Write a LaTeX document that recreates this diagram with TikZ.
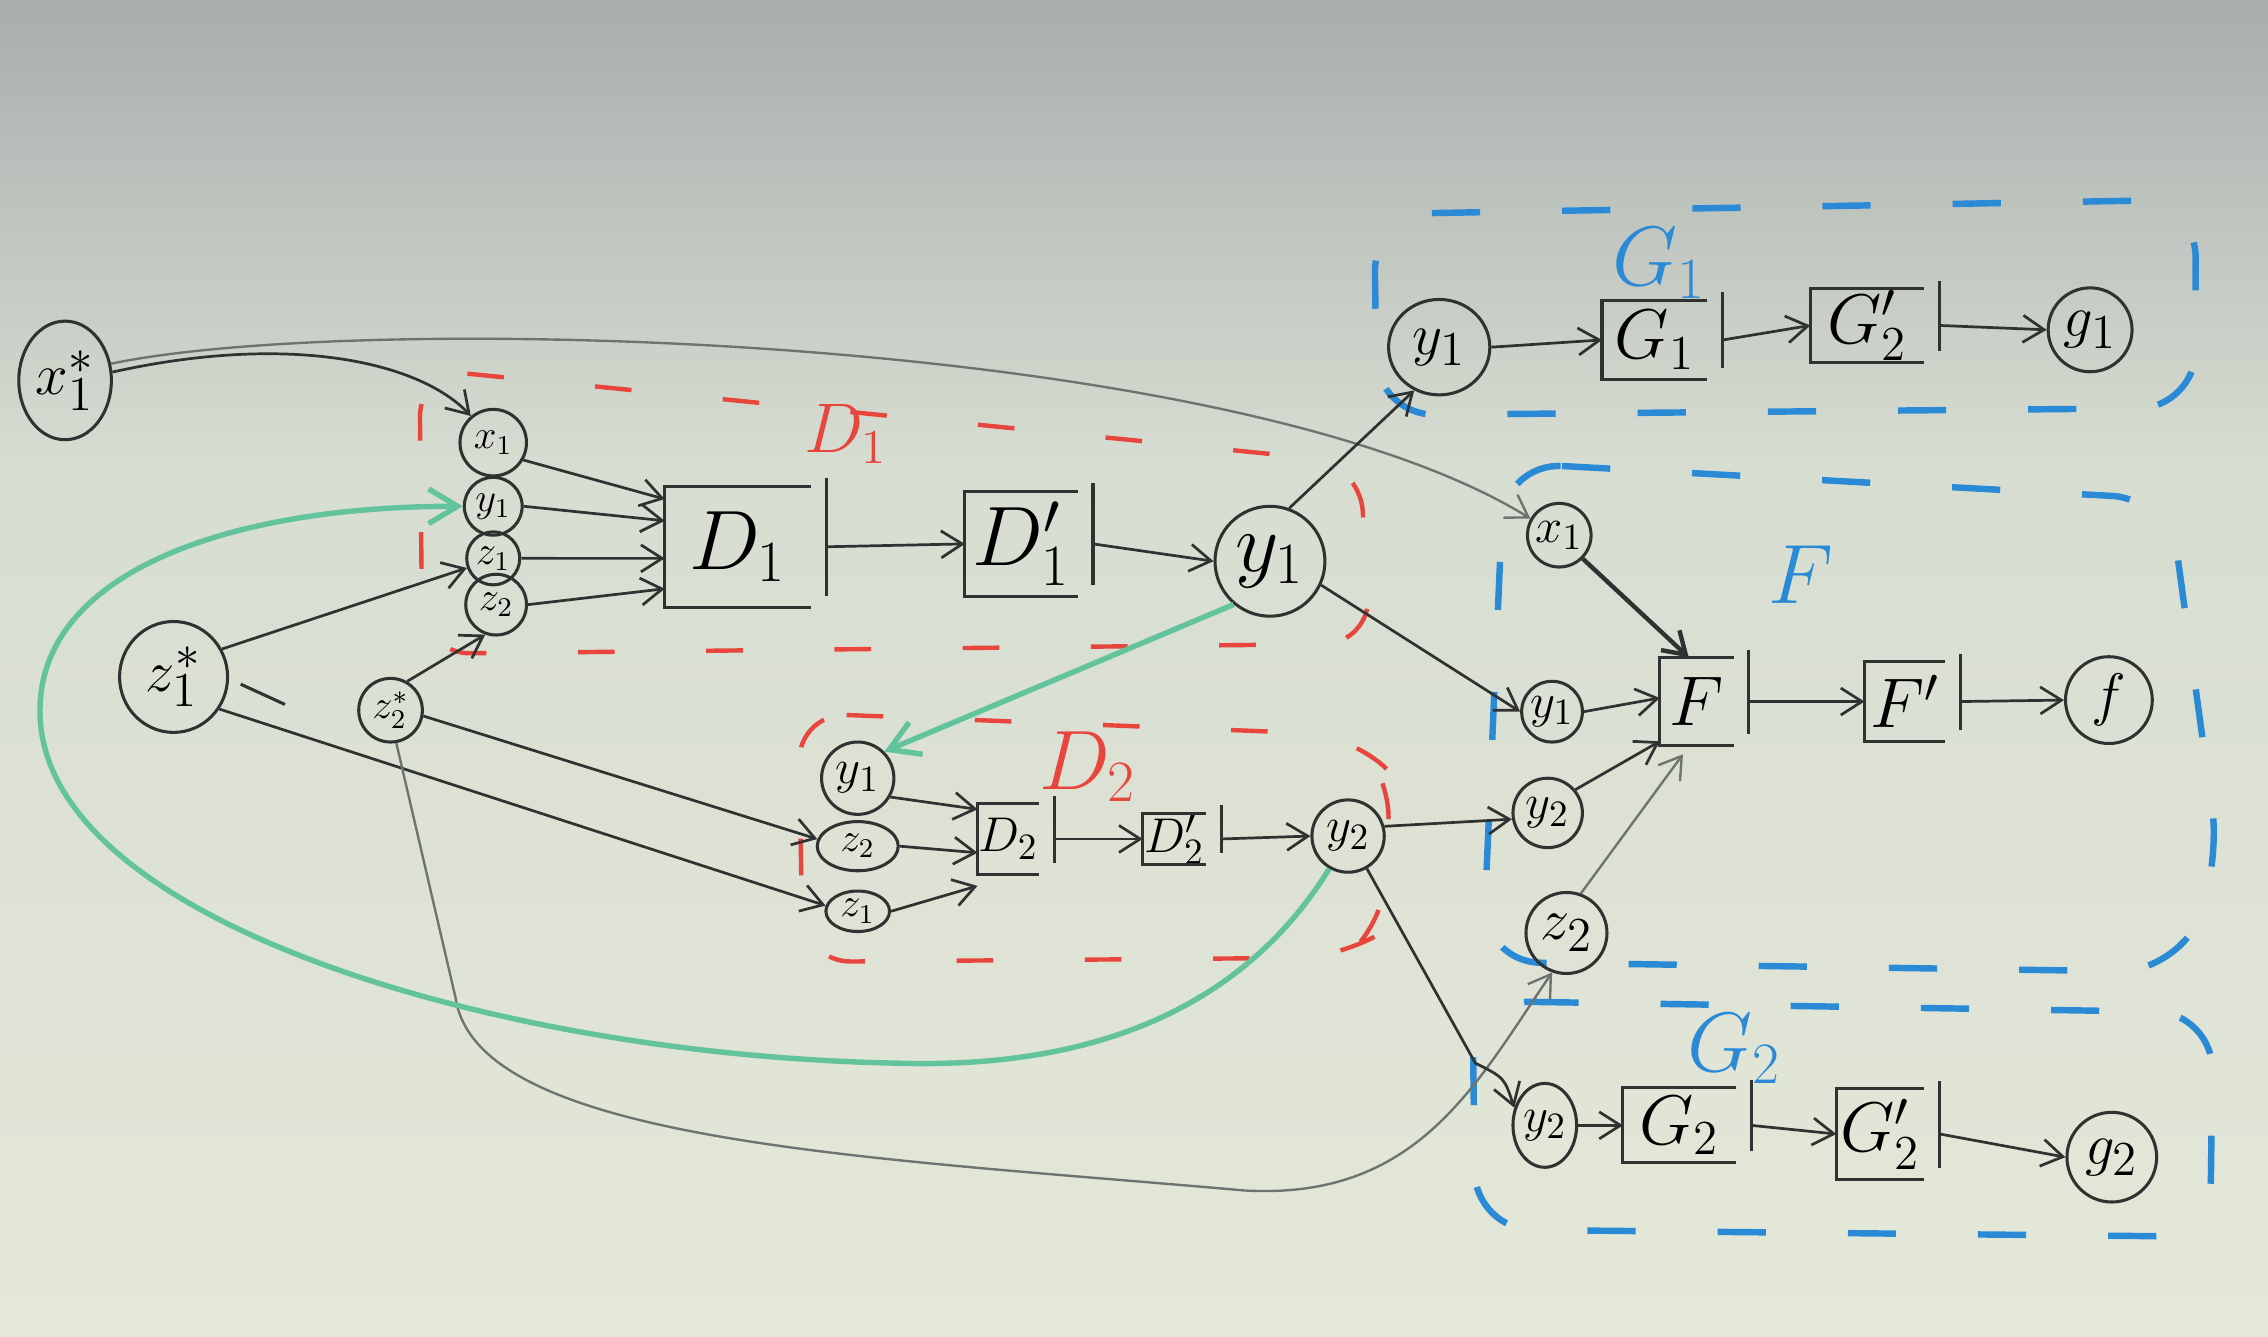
\documentclass[tikz,border=0pt]{standalone}
\usetikzlibrary{arrows.meta,shapes.geometric,calc}
\definecolor{inkc}{HTML}{2F3230}
\definecolor{grayc}{HTML}{6E736F}
\definecolor{redc}{HTML}{E8453C}
\definecolor{bluec}{HTML}{2B8AD6}
\definecolor{greenc}{HTML}{62C39C}
\definecolor{bgtop}{HTML}{A8AEAD}
\definecolor{bgmid}{HTML}{D8DDD2}
\definecolor{bgbot}{HTML}{E3E8D8}
\newcommand\gatebox[1]{%
  \draw[ink] (#1.north east) -- (#1.north west) -- (#1.south west) -- (#1.south east);
  \draw[ink] ([xshift=0.16cm,yshift=0.08cm]#1.north east) -- ([xshift=0.16cm,yshift=0.12cm]#1.south east);
  \coordinate (#1-bar) at ([xshift=0.16cm]#1.east);}
\begin{document}
\begin{tikzpicture}[x=0.015cm,y=-0.015cm,
  ink/.style={draw=inkc,line width=0.9pt},
  circ/.style={circle,draw=inkc,line width=0.9pt,inner sep=0pt},
  ell/.style={ellipse,draw=inkc,line width=0.9pt,inner sep=0pt},
  boxn/.style={rectangle,inner sep=0pt},
  arr/.style={draw=inkc,line width=0.8pt,-{Straight Barb[length=2.2mm,width=2.8mm]}},
  garr/.style={draw=grayc,line width=0.7pt,-{Straight Barb[length=2.2mm,width=2.8mm]}},
  grarr/.style={draw=greenc,line width=1.6pt,-{Straight Barb[length=3mm,width=3.6mm]}},
  reddash/.style={draw=redc,line width=1.3pt,dash pattern=on 0.38cm off 0.95cm,rounded corners=0.5cm},
  bluedash/.style={draw=bluec,line width=1.9pt,dash pattern=on 0.5cm off 0.85cm,rounded corners=0.6cm},
  fs/.style={font=\fontsize{12}{12}\selectfont},
  fm/.style={font=\fontsize{15}{15}\selectfont},
  fl/.style={font=\fontsize{19}{19}\selectfont},
  redlab/.style={text=redc,font=\fontsize{20}{20}\selectfont},
  bluelab/.style={text=bluec,font=\fontsize{23}{23}\selectfont}]
\fill[bgbot] (0,0) rectangle (1568,924);
\shade[top color=bgtop,bottom color=bgmid] (0,0) rectangle (1568,320);
\shade[top color=bgmid,bottom color=bgbot] (0,319) rectangle (1568,924);
\useasboundingbox (0,0) rectangle (1568,924);

% region boxes
\draw[reddash] (290,255) -- (940,320) -- (948,445) -- (292,452) -- cycle;
\draw[reddash] (552,493) -- (935,508) -- (962,535) -- (955,645) -- (930,662) -- (555,665) -- cycle;
\draw[bluedash] (950,148) -- (1518,138) -- (1518,282) -- (952,287) -- cycle;
\draw[bluedash] (1040,320) -- (1500,345) -- (1535,600) -- (1505,672) -- (1025,665) -- cycle;
\draw[bluedash] (1018,692) -- (1530,700) -- (1528,855) -- (1020,850) -- cycle;

\node[redlab] (lD1) at (585,300) {$D_1$};
\node[redlab,font=\fontsize{23}{23}\selectfont] (lD2) at (752,530) {$D_2$};
\node[bluelab] (lG1) at (1147,182) {$G_1$};
\node[bluelab] (lF) at (1245,397) {$F$};
\node[bluelab] (lG2) at (1199,725) {$G_2$};

% nodes
\node[ell,minimum width=0.96cm,minimum height=1.23cm,fl] (X1s) at (45,263) {$x_1^{*}$};
\node[circ,minimum size=0.69cm,fs] (xa) at (341,306) {$x_1$};
\node[circ,minimum size=0.60cm,fs] (ya) at (341,350) {$y_1$};
\node[circ,minimum size=0.55cm,fs] (za) at (341,386) {$z_1$};
\node[circ,minimum size=0.63cm,fs] (zb) at (343,418) {$z_2$};
\node[boxn,minimum width=1.5cm,minimum height=1.245cm,font=\fontsize{26}{26}\selectfont] (D1) at (510,378) {$D_1$};
\node[boxn,minimum width=1.155cm,minimum height=1.08cm,font=\fontsize{24}{24}\selectfont] (D1p) at (706,376) {$D_1'$};
\node[circ,minimum size=1.14cm,font=\fontsize{24}{24}\selectfont] (Y1) at (878,388) {$y_1$};
\node[ell,minimum width=1.12cm,minimum height=1.15cm,fl] (z1s) at (120,468) {$z_1^{*}$};
\node[circ,minimum size=0.66cm,fs] (z2s) at (270,491) {$z_2^{*}$};
\node[circ,minimum size=0.75cm,fm] (yb) at (593,538) {$y_1$};
\node[ell,minimum width=0.84cm,minimum height=0.51cm,fs] (zc) at (593,585) {$z_2$};
\node[ell,minimum width=0.66cm,minimum height=0.42cm,fs] (zd) at (593,630) {$z_1$};
\node[boxn,minimum width=0.555cm,minimum height=0.72cm,fm] (D2) at (697,580) {$D_2$};
\node[boxn,minimum width=0.645cm,minimum height=0.51cm,fm] (D2p) at (812,580) {$D_2'$};
\node[circ,minimum size=0.75cm,fm] (y2a) at (932,578) {$y_2$};
\node[ell,minimum width=1.05cm,minimum height=0.99cm,fl] (yc) at (995,240) {$y_1$};
\node[boxn,minimum width=1.08cm,minimum height=0.81cm,font=\fontsize{22}{22}\selectfont] (Gi) at (1144,235) {$G_1$};
\node[boxn,minimum width=1.17cm,minimum height=0.75cm,font=\fontsize{20}{20}\selectfont] (G2p) at (1291,225) {$G_2'$};
\node[circ,minimum size=0.87cm,fl] (g1) at (1445,228) {$g_1$};
\node[circ,minimum size=0.66cm,fm] (xb) at (1078,370) {$x_1$};
\node[circ,minimum size=0.63cm,fm] (yd) at (1073,492) {$y_1$};
\node[circ,minimum size=0.72cm,fm] (ye) at (1070,562) {$y_2$};
\node[circ,minimum size=0.84cm,fl] (ze) at (1083,645) {$z_2$};
\node[boxn,minimum width=0.75cm,minimum height=0.9cm,font=\fontsize{22}{22}\selectfont] (F) at (1173,485) {$F$};
\node[boxn,minimum width=0.825cm,minimum height=0.81cm,font=\fontsize{22}{22}\selectfont] (Fp) at (1317,485) {$F'$};
\node[circ,minimum size=0.9cm,fl] (fn) at (1458,484) {$f$};
\node[ell,minimum width=0.66cm,minimum height=0.87cm,fm] (yf) at (1068,778) {$y_2$};
\node[boxn,minimum width=1.155cm,minimum height=0.765cm,font=\fontsize{20}{20}\selectfont] (G2b) at (1161,778) {$G_2$};
\node[boxn,minimum width=0.9cm,minimum height=0.93cm,font=\fontsize{20}{20}\selectfont] (G2pb) at (1300,784) {$G_2'$};
\node[circ,minimum size=0.93cm,fl] (g2) at (1460,800) {$g_2$};

\foreach \b in {D1,D1p,D2,D2p,Gi,G2p,F,Fp,G2b,G2pb} {\gatebox{\b}}

% connectors
\draw[arr] (X1s.10) .. controls (200,230) and (290,250) .. (xa.130);
\draw[garr] (X1s.20) .. controls (250,215) and (850,230) .. (xb.150);
\draw[arr] (xa.-30) -- ($(D1.north west)+(0,9)$);
\draw[arr] (ya.east) -- ($(D1.north west)+(0,24)$);
\draw[arr] (za.east) -- ($(D1.north west)+(0,50)$);
\draw[arr] (zb.east) -- ($(D1.north west)+(0,71)$);
\draw[arr] (z1s.30) -- (za.200);
\coordinate (stub) at (197,487);
\draw[ink] ($(z1s.east)+(8,5)$) -- (stub);
\draw[arr] (z1s.-35) -- (zd.170);
\draw[arr] (z2s.60) -- (zb.250);
\draw[arr] (z2s.-10) -- (zc.170);
\draw[garr] (z2s.-80) -- (315,690) .. controls (330,790) and (600,800) .. (860,823) .. controls (980,830) and (1020,750) .. (ze.-110);
\draw[arr] (D1-bar) -- (D1p.west);
\draw[arr] (D1p-bar) -- (Y1.west);
\draw[grarr] (Y1.230) -- (yb.45);
\draw[grarr] (y2a.240) .. controls (870,680) and (780,740) .. (620,735) .. controls (350,730) and (40,640) .. (28,500) .. controls (20,400) and (150,350) .. (ya.west);
\draw[arr] (yb.-30) -- ($(D2.north west)+(0,4)$);
\draw[arr] (zc.east) -- ($(D2.north west)+(0,34)$);
\draw[arr] (zd.east) -- ($(D2.south west)+(0,8)$);
\draw[arr] (D2-bar) -- (D2p.west);
\draw[arr] (D2p-bar) -- (y2a.west);
\draw[arr] (y2a.15) -- (ye.190);
\draw[arr] (y2a.-60) -- (1020,735) .. controls (1040,745) .. (yf.150);
\draw[arr] (Y1.70) -- (yc.-120);
\draw[arr] (Y1.-25) -- (yd.west);
\draw[arr] (yc.east) -- (Gi.west);
\draw[arr] (Gi-bar) -- (G2p.west);
\draw[arr] (G2p-bar) -- (g1.west);
\draw[arr,line width=1.3pt] (xb.-45) -- ($(F.north west)+(20,0)$);
\draw[arr] (yd.east) -- ($(F.north west)+(0,28)$);
\draw[arr] (ye.40) -- ($(F.south west)+(0,-3)$);
\draw[garr] (ze.70) -- ($(F.south west)+(16,6)$);
\draw[arr] (F-bar) -- (Fp.west);
\draw[arr] (Fp-bar) -- (fn.west);
\draw[arr] (yf.east) -- (G2b.west);
\draw[arr] (G2b-bar) -- (G2pb.west);
\draw[arr] (G2pb-bar) -- (g2.west);
\end{tikzpicture}
\end{document}
